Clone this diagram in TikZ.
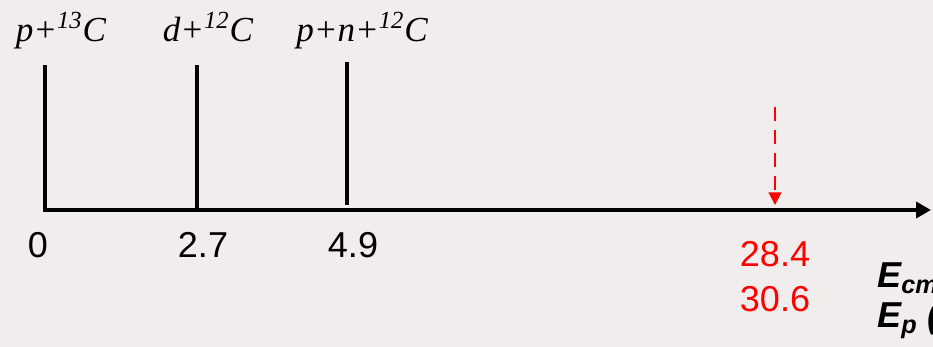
\documentclass[tikz,border=0pt]{standalone}
\usepackage{fontspec}
\setmainfont{Liberation Serif}
\setsansfont{Liberation Sans}
\usetikzlibrary{arrows.meta,positioning}
\definecolor{bgpaper}{HTML}{F1EDEC}
\definecolor{markred}{HTML}{FF0000}

\begin{document}
\begin{tikzpicture}[
    x=0.02cm, y=-0.02cm,
    level/.style={line width=2.6pt},
    axis/.style={line width=2.6pt, -{Triangle[length=0.3cm, width=0.32cm]}},
    beam/.style={markred, line width=1.1pt, dash pattern=on 8pt off 5pt,
                 -{Triangle[length=0.25cm, width=0.25cm]}},
    chan/.style={anchor=base, inner sep=0pt, font=\fontsize{20}{22}\selectfont\itshape},
    val/.style={anchor=base, inner sep=0pt, font=\sffamily\fontsize{20.5}{23}\selectfont},
    qty/.style={anchor=base west, inner sep=0pt,
                font=\sffamily\bfseries\itshape\fontsize{20.5}{23}\selectfont}
  ]
  \fill[bgpaper] (0,0) rectangle (933,347);
  \useasboundingbox (0,0) rectangle (933,347);
  \clip (0,0) rectangle (933,347);

  % Axis
  \coordinate (origin) at (43,210);
  \coordinate (axend) at (931,210);
  \draw[axis] (origin) -- (axend);

  % Thresholds
  \coordinate (th0) at (45,210);
  \coordinate (th0top) at (45,65);
  \coordinate (th1) at (197,210);
  \coordinate (th1top) at (197,65);
  \coordinate (th2) at (347,205);
  \coordinate (th2top) at (347,62);
  \draw[level] (th0) -- (th0top);
  \draw[level] (th1) -- (th1top);
  \draw[level] (th2) -- (th2top);

  \node[chan] (pc13) at (61,42) {p+\textsuperscript{13}C};
  \node[chan] (dc12) at (208,42) {d+\textsuperscript{12}C};
  \node[chan] (pnc12) at (362,42) {p+n+\textsuperscript{12}C};

  \node[val] (e0) at (38,258) {0};
  \node[val] (e1) at (203,258) {2.7};
  \node[val] (e2) at (353,258) {4.9};

  % Beam energy
  \coordinate (btop) at (775,107);
  \coordinate (bhit) at (775,205);
  \draw[beam] (btop) -- (bhit);
  \node[val, markred] (ecm) at (775,267) {28.4};
  \node[val, markred] (elab) at (775,312) {30.6};

  \node[qty] (ecmlab) at (877,288) {E\textsubscript{cm}};
  \node[qty] (eplab) at (877,328) {E\textsubscript{p} (};
\end{tikzpicture}
\end{document}
